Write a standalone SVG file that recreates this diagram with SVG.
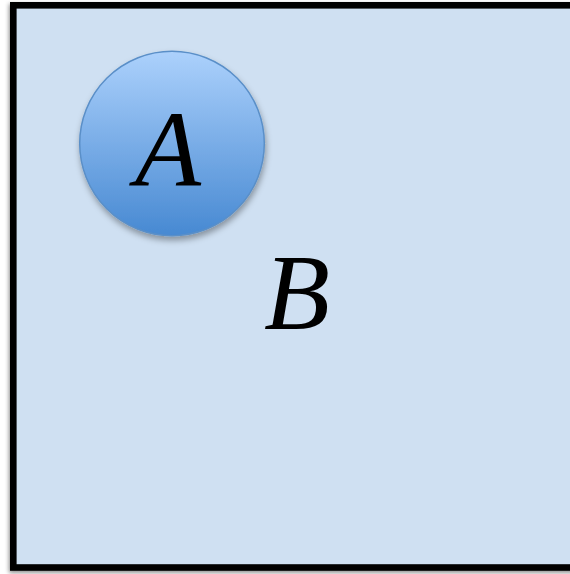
<svg xmlns="http://www.w3.org/2000/svg" width="570" height="574" viewBox="0 0 570 574">
  <style>
    .lbl { font-family: "Liberation Serif", "Times New Roman", serif; font-style: italic; font-size: 108px; fill: #000; text-anchor: middle; }
  </style>
  <defs>
    <linearGradient id="gA" x1="0" y1="0" x2="0" y2="1">
      <stop offset="0" stop-color="#acd1fc"/>
      <stop offset="1" stop-color="#4789d2"/>
    </linearGradient>
    <filter id="shRect" x="-5%" y="-5%" width="110%" height="110%">
      <feDropShadow dx="-1" dy="2" stdDeviation="2" flood-color="#000" flood-opacity="0.45"/>
    </filter>
    <filter id="shCirc" x="-20%" y="-20%" width="140%" height="140%">
      <feDropShadow dx="1" dy="4" stdDeviation="3" flood-color="#000" flood-opacity="0.35"/>
    </filter>
  </defs>
  <rect width="570" height="574" fill="#ffffff"/>
  <g id="B">
    <rect x="13.3" y="5.3" width="600" height="562.2" fill="#cfe0f2" stroke="#000" stroke-width="6.6" filter="url(#shRect)"/>
    <text class="lbl" x="297" y="329">B</text>
  </g>
  <g id="A">
    <circle cx="172" cy="143.5" r="92.3" fill="url(#gA)" stroke="#5a8fc8" stroke-width="1.5" filter="url(#shCirc)"/>
    <text class="lbl" x="168" y="186">A</text>
  </g>
  <g id="connectors"/>
</svg>
